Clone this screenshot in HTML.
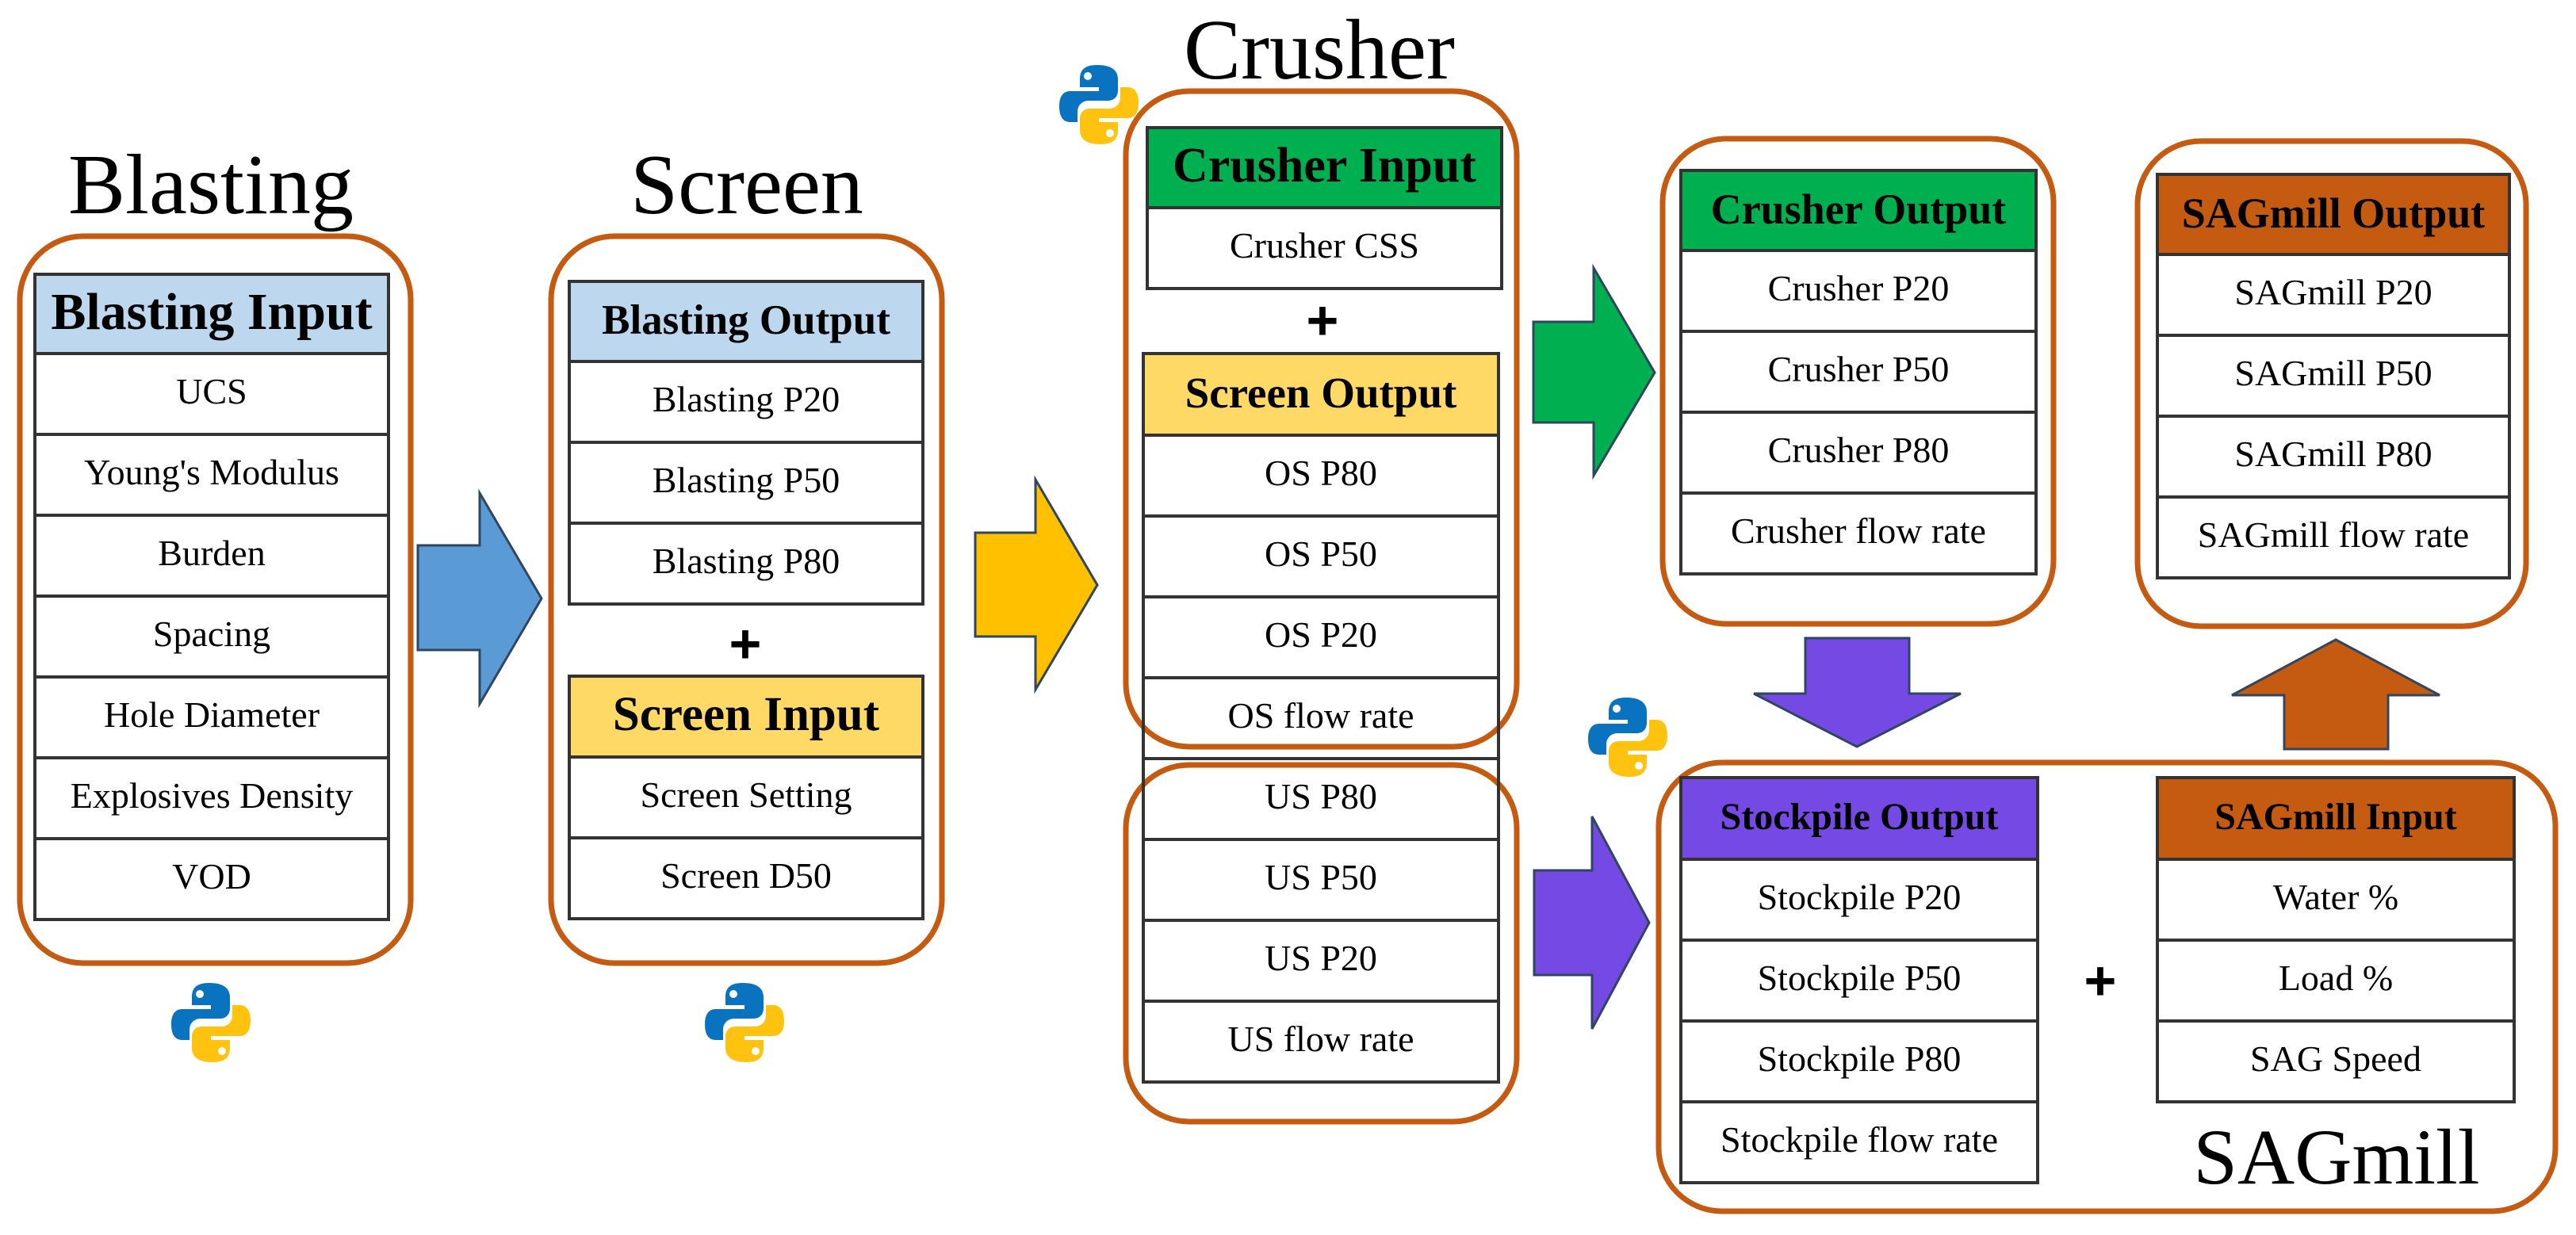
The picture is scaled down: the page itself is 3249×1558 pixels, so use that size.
<!DOCTYPE html>
<html><head><meta charset="utf-8"><style>
html,body{margin:0;padding:0;background:#fff}
body{width:3249px;height:1558px;position:relative;overflow:hidden;font-family:"Liberation Serif",serif;color:#000}
.t{position:absolute}
.t div{box-sizing:border-box;border:4px solid #333;margin-top:-4px;display:flex;align-items:center;justify-content:center;font-size:46px;padding-bottom:8px;white-space:nowrap}
.t div.h{font-weight:bold;padding-bottom:4px}
.ttl{position:absolute;font-size:108px;line-height:1;transform:translateX(-50%);white-space:nowrap}
.plus{position:absolute;font-size:70px;font-weight:bold;line-height:1;transform:translate(-50%,-50%);font-family:"Liberation Sans",sans-serif}
svg{position:absolute;left:0;top:0}
</style></head><body>
<svg width="3249" height="1558">
<defs>
<g id="py">
<path d="M48 0 C30 0 26 8 26 18 V28 H50 V33 H14 C4 33 0 41 0 52 C0 64 4 72 14 72 H23 V59 C23 51 29 45 37 45 H61 C69 45 74 40 74 32 V18 C74 7 66 0 48 0Z" fill="#0a73c0"/>
<path d="M52 100 C70 100 74 92 74 82 V72 H50 V67 H86 C96 67 100 59 100 48 C100 36 96 28 86 28 H77 V41 C77 49 71 55 63 55 H39 C31 55 26 60 26 68 V82 C26 93 34 100 52 100Z" fill="#ffc20e"/>
<circle cx="36" cy="14" r="5" fill="#fff"/><circle cx="64" cy="86" r="5" fill="#fff"/>
</g>
</defs>
<g fill="none" stroke="#C55A11" stroke-width="7">
<rect x="25" y="298" width="493" height="917" rx="80"/>
<rect x="695" y="298" width="493" height="917" rx="80"/>
<rect x="1420" y="115" width="493" height="827" rx="80"/>
<rect x="1420" y="965" width="493" height="450" rx="80"/>
<rect x="2097" y="175" width="493" height="612" rx="80"/>
<rect x="2696" y="178" width="490" height="612" rx="80"/>
<rect x="2092" y="962" width="1131" height="566" rx="80"/>
</g>
<g stroke="#2f4560" stroke-width="3">
<polygon points="527,688 605,688 605,622 683,755 605,888 605,820 527,820" fill="#5B9BD5"/>
<polygon points="1230,672 1306,672 1306,605 1384,738 1306,870 1306,803 1230,803" fill="#FFC000"/>
<polygon points="1934,406 2010,406 2010,338 2087,470 2010,600 2010,533 1934,533" fill="#00B050"/>
<polygon points="1935,1098 2008,1098 2008,1030 2080,1164 2008,1298 2008,1230 1935,1230" fill="#7549E3"/>
<polygon points="2277,805 2408,805 2408,875 2473,875 2342,942 2212,875 2277,875" fill="#7549E3"/>
<polygon points="2881,945 3012,945 3012,877 3077,877 2946,807 2815,877 2881,877" fill="#C55A11"/>
</g>
<use href="#py" transform="translate(216,1240)"/>
<use href="#py" transform="translate(889,1240)"/>
<use href="#py" transform="translate(1336,82)"/>
<use href="#py" transform="translate(2003,880)"/>
</svg>

<div class="ttl" style="left:266px;top:180px">Blasting</div>
<div class="ttl" style="left:942px;top:180px">Screen</div>
<div class="ttl" style="left:1664px;top:10px">Crusher</div>
<div class="ttl" style="left:2947px;top:1410px;font-size:100px">SAGmill</div>

<div class="t" style="left:42px;top:348px;width:450px">
<div class="h" style="height:104px;background:#BDD7EE;font-size:66px">Blasting Input</div>
<div style="height:106px">UCS</div>
<div style="height:106px">Young's Modulus</div>
<div style="height:106px">Burden</div>
<div style="height:106px">Spacing</div>
<div style="height:106px">Hole Diameter</div>
<div style="height:106px">Explosives Density</div>
<div style="height:106px">VOD</div>
</div>

<div class="t" style="left:716px;top:357px;width:450px">
<div class="h" style="height:105px;background:#BDD7EE;font-size:53px">Blasting Output</div>
<div style="height:106px">Blasting P20</div>
<div style="height:106px">Blasting P50</div>
<div style="height:106px">Blasting P80</div>
</div>
<div class="plus" style="left:940px;top:812px">+</div>
<div class="t" style="left:716px;top:855px;width:450px">
<div class="h" style="height:106px;background:#FFD966;font-size:61px">Screen Input</div>
<div style="height:106px">Screen Setting</div>
<div style="height:106px">Screen D50</div>
</div>

<div class="t" style="left:1445px;top:163px;width:451px">
<div class="h" style="height:105px;background:#00B050;font-size:62px">Crusher Input</div>
<div style="height:106px">Crusher CSS</div>
</div>
<div class="plus" style="left:1668px;top:404px">+</div>
<div class="t" style="left:1440px;top:448px;width:452px">
<div class="h" style="height:107px;background:#FFD966;font-size:55px">Screen Output</div>
<div style="height:106px">OS P80</div>
<div style="height:106px">OS P50</div>
<div style="height:106px">OS P20</div>
<div style="height:106px">OS flow rate</div>
<div style="height:106px">US P80</div>
<div style="height:106px">US P50</div>
<div style="height:106px">US P20</div>
<div style="height:106px">US flow rate</div>
</div>

<div class="t" style="left:2118px;top:217px;width:452px">
<div class="h" style="height:105px;background:#00B050;font-size:54px">Crusher Output</div>
<div style="height:106px">Crusher P20</div>
<div style="height:106px">Crusher P50</div>
<div style="height:106px">Crusher P80</div>
<div style="height:106px">Crusher flow rate</div>
</div>

<div class="t" style="left:2719px;top:222px;width:448px">
<div class="h" style="height:105px;background:#C55A11;font-size:54px">SAGmill Output</div>
<div style="height:106px">SAGmill P20</div>
<div style="height:106px">SAGmill P50</div>
<div style="height:106px">SAGmill P80</div>
<div style="height:106px">SAGmill flow rate</div>
</div>

<div class="t" style="left:2118px;top:983px;width:454px">
<div class="h" style="height:107px;background:#7549E3;font-size:48px">Stockpile Output</div>
<div style="height:106px">Stockpile P20</div>
<div style="height:106px">Stockpile P50</div>
<div style="height:106px">Stockpile P80</div>
<div style="height:106px">Stockpile flow rate</div>
</div>
<div class="plus" style="left:2649px;top:1237px">+</div>
<div class="t" style="left:2719px;top:983px;width:454px">
<div class="h" style="height:107px;background:#C55A11;font-size:48px">SAGmill Input</div>
<div style="height:106px">Water %</div>
<div style="height:106px">Load %</div>
<div style="height:106px">SAG Speed</div>
</div>
</body></html>
